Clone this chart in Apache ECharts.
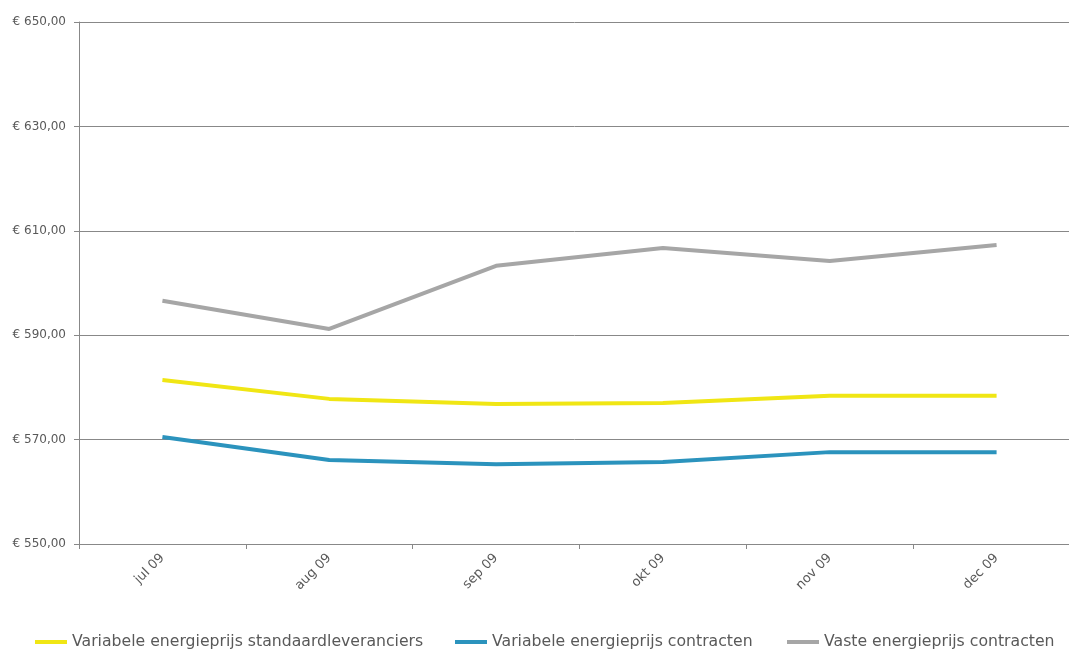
<!DOCTYPE html>
<html>
<head>
<meta charset="utf-8">
<script src="https://cdn.jsdelivr.net/npm/echarts@6/dist/echarts.min.js"></script>
<style>
  html, body { margin: 0; padding: 0; background: #fff; }
  #chart { width: 1069px; height: 651px; }
</style>
</head>
<body>
<div id="chart"></div>
<script>
const months = ['jul 09', 'aug 09', 'sep 09', 'okt 09', 'nov 09', 'dec 09'];
const seriesNames = ['Variabele energieprijs standaardleveranciers', 'Variabele energieprijs contracten', 'Vaste energieprijs contracten'];
const variabelStandaard = [581.4, 577.8, 576.8, 577.0, 578.4, 578.4];
const variabelContract = [570.5, 566.1, 565.3, 565.7, 567.6, 567.6];
const vastContract = [596.6, 591.2, 603.3, 606.7, 604.2, 607.3];

const chart = echarts.init(document.getElementById('chart'));

const mkSeries = (name, data, color) => ({
    name: name,
    type: 'line',
    data: data,
    symbol: 'none',
    lineStyle: { width: 4, color: color },
    itemStyle: { color: color }
});

// one legend per item so each sits where it does in the original
const legendLeft = [35, 455, 787];
const legends = seriesNames.map((name, i) => ({
    left: legendLeft[i],
    top: 634,
    padding: 0,
    icon: 'rect',
    itemWidth: 32,
    itemHeight: 4,
    textStyle: { fontSize: 15.7, color: '#595959', fontFamily: 'DejaVu Sans' },
    data: [name]
}));

const option = {
    animation: false,
    textStyle: { fontFamily: 'DejaVu Sans' },
    // plot area runs past the right edge of the picture
    grid: { left: 79, top: 22, width: 1001, bottom: 107, outerBoundsMode: 'none' },
    legend: legends,
    xAxis: {
        type: 'category',
        data: months,
        boundaryGap: true,
        axisLine: { lineStyle: { color: '#888' } },
        axisTick: { show: true, length: 5, lineStyle: { color: '#888' } },
        axisLabel: { rotate: 45, color: '#595959', fontSize: 13, margin: 12 }
    },
    yAxis: {
        type: 'value',
        min: 550,
        max: 650,
        interval: 20,
        axisLine: { show: true, lineStyle: { color: '#888' } },
        axisTick: { show: true, length: 5, lineStyle: { color: '#888' } },
        splitLine: { lineStyle: { color: '#888' } },
        axisLabel: {
            color: '#595959',
            fontSize: 12,
            margin: 13,
            formatter: v => '€ ' + v.toFixed(2).replace('.', ',')
        }
    },
    series: [
        mkSeries(seriesNames[0], variabelStandaard, '#f0e614'),
        mkSeries(seriesNames[1], variabelContract, '#2b93bd'),
        mkSeries(seriesNames[2], vastContract, '#a6a6a6')
    ]
};

chart.setOption(option);
</script>
</body>
</html>
